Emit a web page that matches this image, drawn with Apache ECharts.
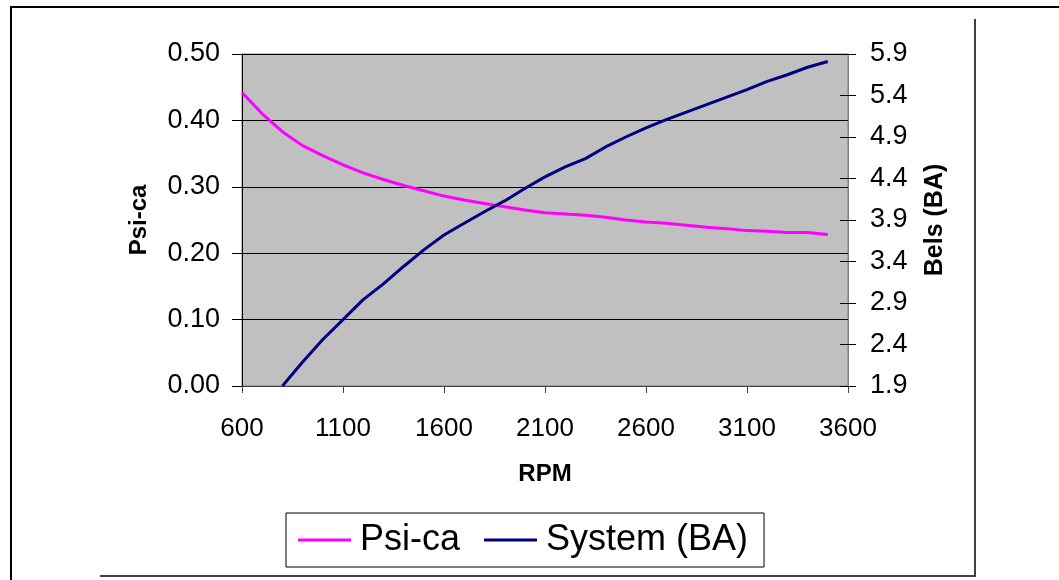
<!DOCTYPE html>
<html>
<head>
<meta charset="utf-8">
<script src="https://cdn.jsdelivr.net/npm/echarts@6/dist/echarts.min.js"></script>
<style>
html,body{margin:0;padding:0;background:#fff;}
#chart{width:1059px;height:580px;}
</style>
</head>
<body>
<div id="chart"></div>
<script>
// RPM values for each series
const rpmPsi = [600,700,800,900,1000,1100,1200,1300,1400,1500,1600,1700,1800,1900,2000,2100,2200,2300,2400,2500,2600,2700,2800,2900,3000,3100,3200,3300,3400,3500];
const psiValues = [0.442,0.410,0.383,0.362,0.347,0.333,0.321,0.311,0.302,0.294,0.286,0.280,0.275,0.270,0.265,0.261,0.259,0.257,0.254,0.250,0.247,0.245,0.242,0.239,0.237,0.234,0.233,0.231,0.231,0.228];
const rpmSys = [800,900,1000,1100,1200,1300,1400,1500,1600,1700,1800,1900,2000,2100,2200,2300,2400,2500,2600,2700,2800,2900,3000,3100,3200,3300,3400,3500];
const sysValues = [1.90,2.19,2.46,2.70,2.94,3.13,3.34,3.54,3.72,3.86,4.00,4.13,4.28,4.42,4.54,4.64,4.78,4.90,5.01,5.11,5.20,5.29,5.38,5.47,5.57,5.65,5.74,5.81];
// tick labels
const xTicks = [600,1100,1600,2100,2600,3100,3600];
const leftTicks = [0,0.1,0.2,0.3,0.4,0.5];
const rightTicks = [1.9,2.4,2.9,3.4,3.9,4.4,4.9,5.4,5.9];
const seriesNames = ['Psi-ca','System (BA)'];

const FONT = 'Liberation Sans, Arial, sans-serif';
const chart = echarts.init(document.getElementById('chart'), null, {renderer:'canvas'});

const option = {
  animation: false,
  textStyle: {fontFamily: FONT},
  grid: {
    left: 242, right: 211, top: 54, bottom: 194,
    show: true, backgroundColor: '#c0c0c0', borderColor: '#808080', borderWidth: 1
  },
  legend: {
    left: 286, top: 513,
    orient: 'horizontal',
    backgroundColor: '#fff',
    borderColor: '#000', borderWidth: 1,
    padding: [9, 16, 9, 12],
    itemGap: 24,
    itemWidth: 53, itemHeight: 3,
    icon: 'rect',
    textStyle: {fontSize: 36, fontFamily: FONT, color: '#000', padding: [0,0,0,4]},
    data: seriesNames
  },
  xAxis: {
    type: 'value',
    min: 600, max: 3600,
    name: 'RPM', nameLocation: 'middle', nameGap: 76,
    nameTextStyle: {fontSize: 24, fontWeight: 'bold', color: '#000', fontFamily: FONT},
    axisLine: {show: true, onZero: false, lineStyle: {color: '#404040', width: 1}},
    axisTick: {show: true, length: 7, inside: false, customValues: xTicks, lineStyle: {color: '#404040'}},
    axisLabel: {customValues: xTicks, fontSize: 26, color: '#000', margin: 30, fontFamily: FONT,
      formatter: v => String(v)},
    splitLine: {show: false}
  },
  yAxis: [
    {
      type: 'value', position: 'left',
      min: 0, max: 0.5, interval: 0.1,
      name: 'Psi-ca', nameLocation: 'middle', nameGap: 91,
      nameTextStyle: {fontSize: 24, fontWeight: 'bold', color: '#000', fontFamily: FONT},
      axisLine: {show: true, lineStyle: {color: '#000', width: 1}},
      axisTick: {show: true, length: 10, inside: false, lineStyle: {color: '#000'}},
      axisLabel: {fontSize: 27, color: '#000', margin: 22, fontFamily: FONT,
        formatter: v => v.toFixed(2)},
      splitLine: {show: true, lineStyle: {color: '#000', width: 1}}
    },
    {
      type: 'value', position: 'right',
      min: 1.9, max: 5.9,
      name: 'Bels (BA)', nameLocation: 'middle', nameGap: 75,
      nameTextStyle: {fontSize: 25, fontWeight: 'bold', color: '#000', fontFamily: FONT},
      axisLine: {show: true, lineStyle: {color: '#808080', width: 1}},
      axisTick: {show: true, length: 8, inside: false, customValues: rightTicks, lineStyle: {color: '#000'}},
      axisLabel: {customValues: rightTicks, fontSize: 27, color: '#000', margin: 22, fontFamily: FONT,
        formatter: v => v.toFixed(1)},
      splitLine: {show: false}
    },
    {
      type: 'value', position: 'right',
      min: 1.9, max: 5.9,
      axisLine: {show: false},
      axisTick: {show: true, length: 8, inside: true, customValues: rightTicks, lineStyle: {color: '#000'}},
      axisLabel: {show: false},
      splitLine: {show: false}
    }
  ],
  series: [
    {
      name: seriesNames[0], type: 'line', yAxisIndex: 0,
      symbol: 'none', smooth: false,
      lineStyle: {color: '#ff00ff', width: 3},
      itemStyle: {color: '#ff00ff'},
      data: rpmPsi.map((r, i) => [r, psiValues[i]])
    },
    {
      name: seriesNames[1], type: 'line', yAxisIndex: 1,
      symbol: 'none', smooth: false,
      lineStyle: {color: '#000080', width: 3},
      itemStyle: {color: '#000080'},
      data: rpmSys.map((r, i) => [r, sysValues[i]])
    }
  ],
  graphic: [
    {type: 'line', shape: {x1: 10, y1: 7, x2: 1059, y2: 7}, style: {stroke: '#000', lineWidth: 2}, silent: true},
    {type: 'line', shape: {x1: 11, y1: 7, x2: 11, y2: 580}, style: {stroke: '#000', lineWidth: 2}, silent: true},
    {type: 'line', shape: {x1: 975, y1: 19, x2: 975, y2: 577}, style: {stroke: '#404040', lineWidth: 2}, silent: true},
    {type: 'line', shape: {x1: 100, y1: 576, x2: 976, y2: 576}, style: {stroke: '#404040', lineWidth: 2}, silent: true}
  ]
};
chart.setOption(option);
</script>
</body>
</html>
